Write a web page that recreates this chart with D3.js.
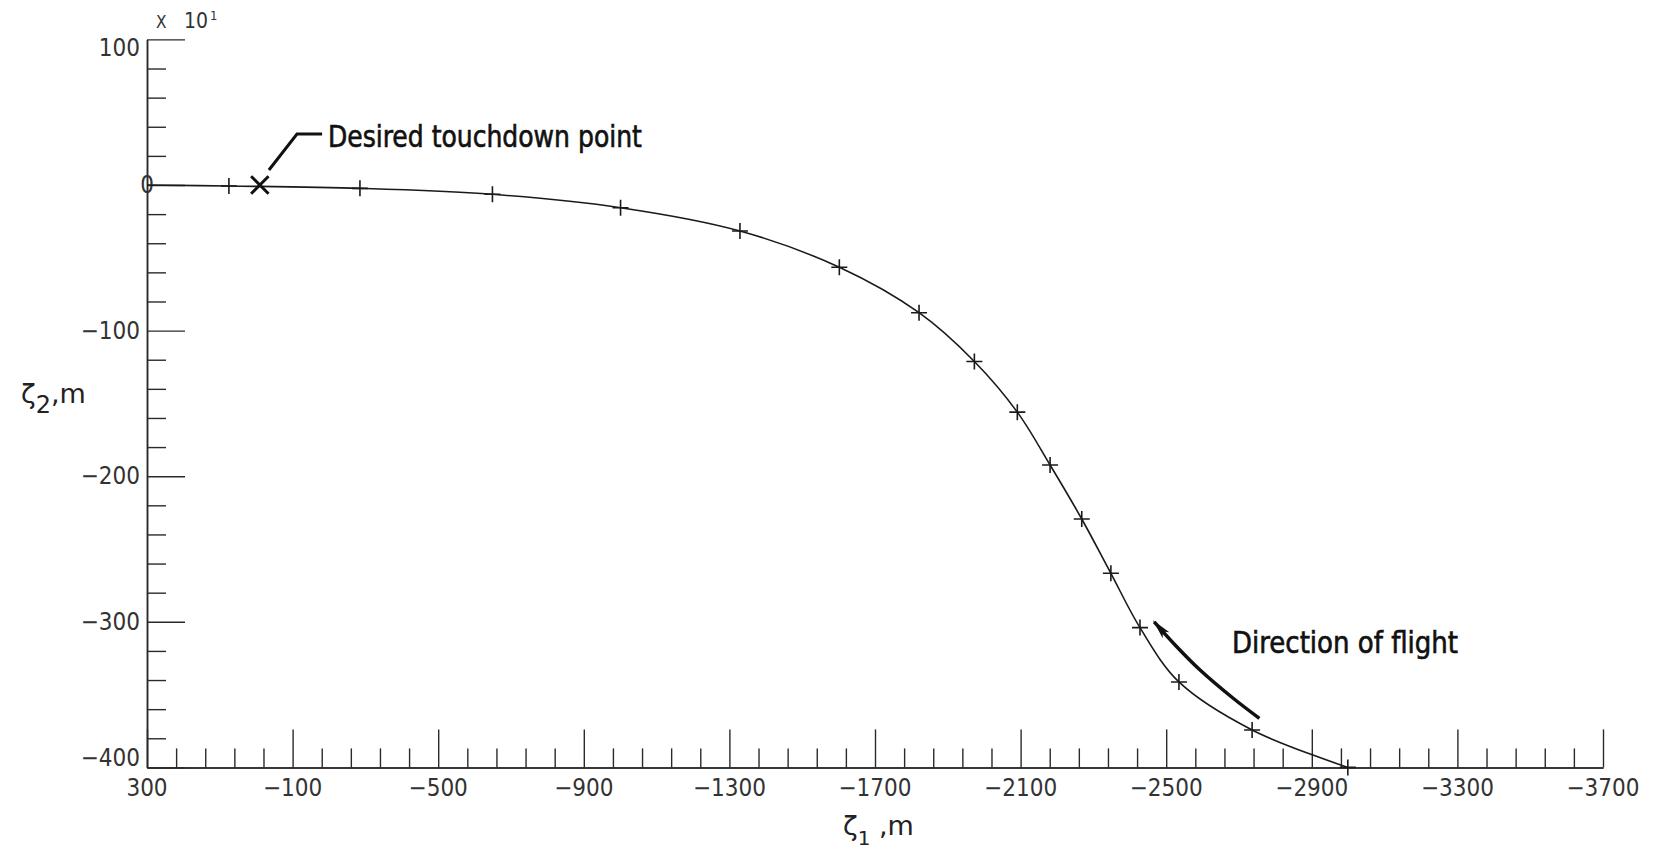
<!DOCTYPE html>
<html><head><meta charset="utf-8">
<script src="https://cdn.jsdelivr.net/npm/d3@7"></script>
<style>body{margin:0;background:#fff;} svg{display:block;background:#fff;}</style>
</head><body>
<svg id="chart" width="1655" height="854"></svg>
<script>
// ---- data ----
const xTickLabels = [300, -100, -500, -900, -1300, -1700, -2100, -2500, -2900, -3300, -3700];
const yTickLabels = [100, 0, -100, -200, -300, -400];
// trajectory (y in units of 10^1 m as on the axis)
const pathX = [300, 75, -285, -649, -1001, -1329, -1602, -1821, -1973, -2091, -2181, -2268, -2348, -2428, -2535, -2736, -2999];
const pathY = [0, -0.7, -2.3, -6.4, -15.6, -31.6, -56.5, -87.7, -121.2, -156, -192.3, -229.4, -266.7, -304, -341.3, -374.3, -400];
const markerX = [75, -285, -649, -1001, -1329, -1602, -1821, -1973, -2091, -2181, -2268, -2348, -2428, -2535, -2736, -2999];
const markerY = [-0.7, -2.3, -6.4, -15.6, -31.6, -56.5, -87.7, -121.2, -156, -192.3, -229.4, -266.7, -304, -341.3, -374.3, -400];
const touchdownX = [-10];
const touchdownY = [0];
const arrowX = [-2756, -2684, -2593, -2529, -2467];
const arrowY = [-366.3, -352.5, -333.1, -317.1, -300];
const leaderX = [-181, -112, -35];
const leaderY = [35, 35, 10.3];

// ---- scales ----
const svg = d3.select("#chart");
const x = d3.scaleLinear().domain([300, -3700]).range([147, 1603]);
const y = d3.scaleLinear().domain([-400, 100]).range([767.4, 39.4]);

const tickFont = "'Liberation Sans Narrow','DejaVu Sans Condensed',sans-serif";
const annFont = "'DejaVu Sans Condensed','Liberation Sans Narrow',sans-serif";

// ---- axes ----
const xMinor = d3.range(300, -3701, -80).filter(v => (300 - v) % 400 !== 0);
const yMinor = d3.range(-400, 101, 20).filter(v => v % 100 !== 0);

function styleAxis(g){
  g.selectAll("path.domain").attr("stroke","#2a2a2a").attr("stroke-width",1.5);
  g.selectAll(".tick line").attr("stroke","#2a2a2a").attr("stroke-width",1.4);
  g.selectAll(".tick text").remove();
}
svg.append("g").attr("transform",`translate(0,${y(-400)})`)
  .call(d3.axisTop(x).tickValues(xTickLabels).tickSize(38).tickSizeOuter(0).tickFormat(""))
  .call(styleAxis);
svg.append("g").attr("transform",`translate(0,${y(-400)})`)
  .call(d3.axisTop(x).tickValues(xMinor).tickSize(19).tickSizeOuter(0).tickFormat(""))
  .call(styleAxis);
svg.append("g").attr("transform",`translate(${x(300)},0)`)
  .call(d3.axisRight(y).tickValues(yTickLabels).tickSize(38).tickSizeOuter(0).tickFormat(""))
  .call(styleAxis);
svg.append("g").attr("transform",`translate(${x(300)},0)`)
  .call(d3.axisRight(y).tickValues(yMinor).tickSize(19).tickSizeOuter(0).tickFormat(""))
  .call(styleAxis);

// tick labels
svg.append("g").selectAll("text").data(xTickLabels).join("text")
  .attr("x", d => x(d)).attr("y", y(-400) + 29)
  .attr("text-anchor","middle")
  .attr("font-family", tickFont).attr("font-size", 24).attr("fill","#333")
  .text(d => d3.format("")(d));

svg.append("g").selectAll("text").data(yTickLabels).join("text")
  .attr("x", d => d === 0 ? x(300) : x(300) - 7)
  .attr("y", d => d === 100 ? y(d) + 17 : (d === -400 ? y(d) - 1 : y(d) + 8))
  .attr("text-anchor", d => d === 0 ? "middle" : "end")
  .attr("font-family", tickFont).attr("font-size", 24).attr("fill","#333")
  .text(d => d3.format("")(d));

// multiplier
svg.append("text").attr("x",156).attr("y",28)
  .attr("font-family", tickFont).attr("font-size",17).attr("fill","#333").text("X");
svg.append("text").attr("x",184).attr("y",28)
  .attr("font-family", tickFont).attr("font-size",21).attr("fill","#333").text("10");
svg.append("text").attr("x",210).attr("y",20)
  .attr("font-family", tickFont).attr("font-size",13).attr("fill","#333").text("1");

// axis titles
const yt = svg.append("text").attr("x",21).attr("y",403)
  .attr("font-family","'DejaVu Sans',sans-serif").attr("font-size",27).attr("fill","#222");
yt.append("tspan").text("ζ");
yt.append("tspan").attr("dy",10).attr("font-size",24).text("2");
yt.append("tspan").attr("dy",-10).text(",m");

const xt = svg.append("text").attr("x",843).attr("y",835)
  .attr("font-family","'DejaVu Sans',sans-serif").attr("font-size",27).attr("fill","#222");
xt.append("tspan").text("ζ");
xt.append("tspan").attr("dy",10).attr("font-size",20).text("1");
xt.append("tspan").attr("dy",-10).text(" ,m");

// ---- trajectory ----
const pts = pathX.map((v,i)=>[v, pathY[i]]);
svg.append("path").datum(pts)
  .attr("d", d3.line().x(d=>x(d[0])).y(d=>y(d[1])).curve(d3.curveCatmullRom.alpha(0.5)))
  .attr("fill","none").attr("stroke","#1a1a1a").attr("stroke-width",1.6);

// plus markers
const mk = markerX.map((v,i)=>[v, markerY[i]]);
svg.append("g").selectAll("path").data(mk).join("path")
  .attr("d", d => { const px = x(d[0]), py = y(d[1]);
    return `M${px-8},${py}H${px+8}M${px},${py-8}V${py+8}`; })
  .attr("stroke","#1a1a1a").attr("stroke-width",1.6).attr("fill","none");

// touchdown X
svg.append("g").selectAll("path").data(touchdownX.map((v,i)=>[v,touchdownY[i]])).join("path")
  .attr("transform", d => `translate(${x(d[0])},${y(d[1])})`)
  .attr("d", d3.symbol(d3.symbolX, 200)())
  .attr("fill","none").attr("stroke","#111").attr("stroke-width",3);

// leader line
svg.append("path").datum(leaderX.map((v,i)=>[v, leaderY[i]]))
  .attr("d", d3.line().x(d=>x(d[0])).y(d=>y(d[1])))
  .attr("fill","none").attr("stroke","#111").attr("stroke-width",3);

svg.append("text").attr("x", x(-197)).attr("y", 147)
  .attr("font-family", annFont).attr("font-size",30).attr("fill","#111")
  .attr("stroke","#111").attr("stroke-width",0.6)
  .attr("textLength",314).attr("lengthAdjust","spacingAndGlyphs")
  .text("Desired touchdown point");

// direction arrow
const defs = svg.append("defs");
defs.append("marker").attr("id","ah").attr("viewBox","0 -5 20 10")
  .attr("refX",18).attr("refY",0).attr("markerWidth",20).attr("markerHeight",10)
  .attr("markerUnits","userSpaceOnUse").attr("orient","auto")
  .append("path").attr("d","M0,-4.5L20,0L0,4.5L5,0Z").attr("fill","#111");
svg.append("path").datum(arrowX.map((v,i)=>[v, arrowY[i]]))
  .attr("d", d3.line().x(d=>x(d[0])).y(d=>y(d[1])).curve(d3.curveCatmullRom.alpha(0.5)))
  .attr("fill","none").attr("stroke","#111").attr("stroke-width",3.5)
  .attr("marker-end","url(#ah)");

svg.append("text").attr("x",1232).attr("y",653)
  .attr("font-family", annFont).attr("font-size",30).attr("fill","#111")
  .attr("stroke","#111").attr("stroke-width",0.6)
  .attr("textLength",226).attr("lengthAdjust","spacingAndGlyphs")
  .text("Direction of flight");
</script>
</body></html>
